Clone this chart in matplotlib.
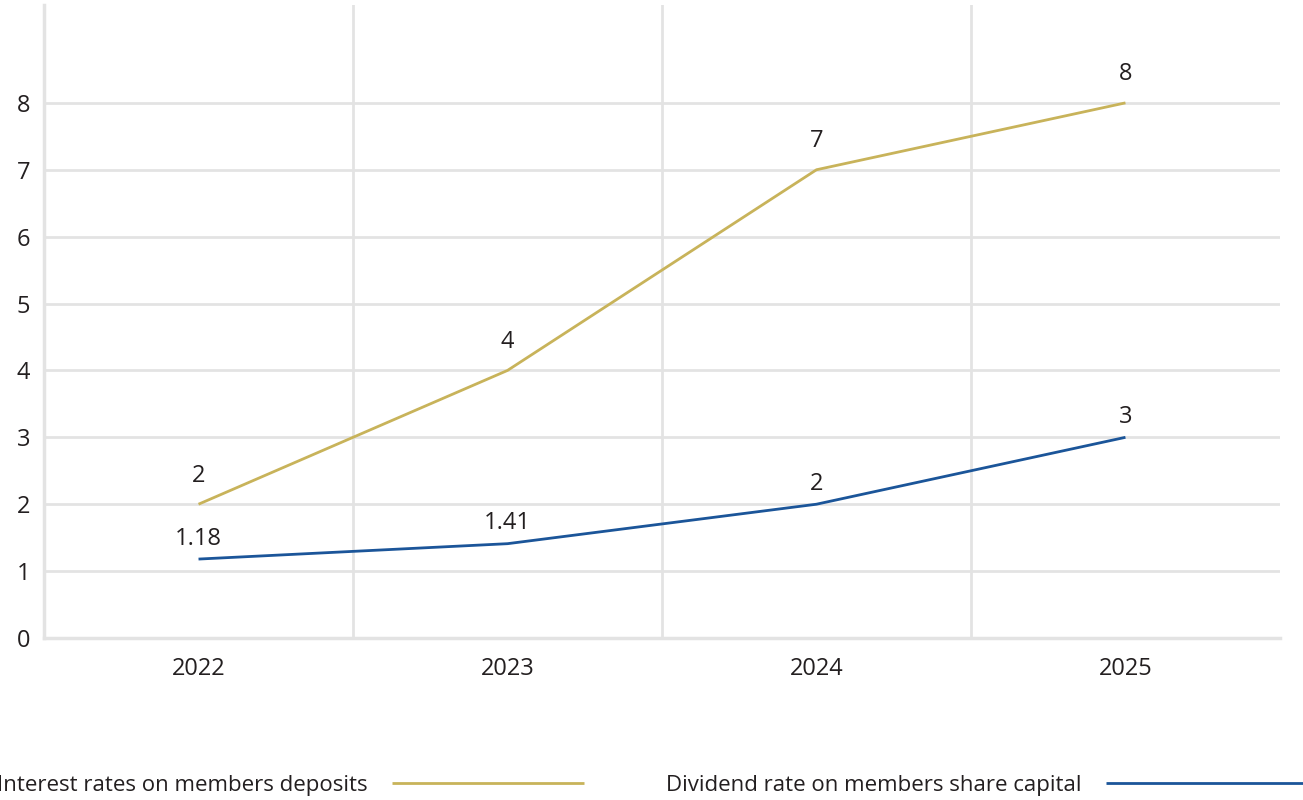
import matplotlib.pyplot as plt

# Rates by year (%)
years = ["2022", "2023", "2024", "2025"]
deposit_rates = [2, 4, 7, 8]
dividend_rates = [1.18, 1.41, 2, 3]
deposit_labels = ["2", "4", "7", "8"]
dividend_labels = ["1.18", "1.41", "2", "3"]

GOLD = "#c8b35a"
BLUE = "#1b5599"
GRID = "#e3e3e3"
TEXT = "#231f20"

plt.rcParams["font.family"] = ["Open Sans", "DejaVu Sans"]
FS = 17
LEG_FS = 16

fig = plt.figure(figsize=(13.03, 8), dpi=100)
ax = fig.add_axes([0.0338, 0.2025, 0.9485, 0.791])

x = list(range(len(years)))
l1, = ax.plot(x, deposit_rates, color=GOLD, lw=2, solid_capstyle="butt",
              label="Interest rates on members deposits")
l2, = ax.plot(x, dividend_rates, color=BLUE, lw=2, solid_capstyle="butt",
              label="Dividend rate on members share capital")

for xi, v, s in zip(x, deposit_rates, deposit_labels):
    ax.annotate(s, (xi, v), xytext=(0, 12), textcoords="offset points",
                ha="center", va="bottom", fontsize=FS, color=TEXT)
for xi, v, s in zip(x, dividend_rates, dividend_labels):
    ax.annotate(s, (xi, v), xytext=(0, 6), textcoords="offset points",
                ha="center", va="bottom", fontsize=FS, color=TEXT)

ax.set_xlim(-0.5, len(years) - 0.5)
ax.set_ylim(0, 9.46)
ax.set_yticks(range(0, 9))
ax.set_xticks(x)
ax.set_xticklabels(years)
ax.tick_params(length=0, labelsize=FS, labelcolor=TEXT)
ax.tick_params(axis="y", pad=10)
ax.tick_params(axis="x", pad=14)

# horizontal gridlines at each tick, vertical lines between years
ax.grid(axis="y", color=GRID, lw=2)
for b in [0.5, 1.5, 2.5]:
    ax.axvline(b, color=GRID, lw=2, zorder=0)
ax.set_axisbelow(True)

for side in ["top", "right"]:
    ax.spines[side].set_visible(False)
for side in ["left", "bottom"]:
    ax.spines[side].set_color(GRID)
    ax.spines[side].set_linewidth(2.5)

# one legend per series so each entry sits at its own spot along the bottom
leg_kw = dict(loc="center left", frameon=False, fontsize=LEG_FS,
              markerfirst=False, handletextpad=1.1, borderpad=0,
              borderaxespad=0, labelcolor=TEXT)
fig.legend(handles=[l1], bbox_to_anchor=(-0.002, 0.018),
           handlelength=8.6, **leg_kw)
fig.legend(handles=[l2], bbox_to_anchor=(0.511, 0.018),
           handlelength=9.3, **leg_kw)

fig.savefig("out.png", dpi=100)
